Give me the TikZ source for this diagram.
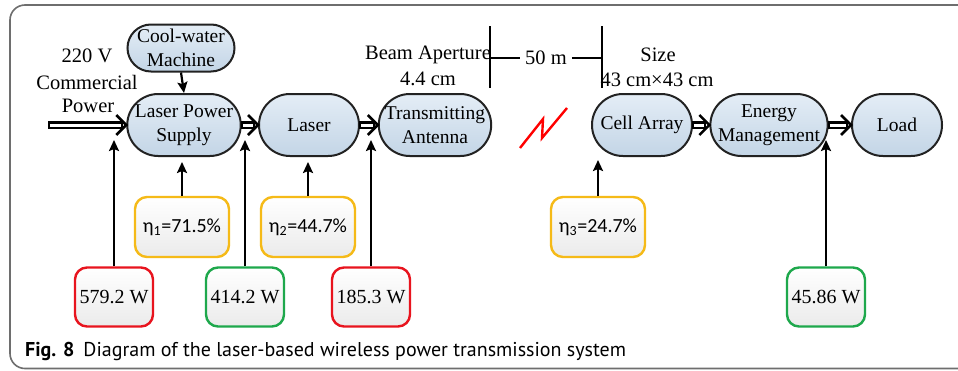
\documentclass[tikz,border=0pt]{standalone}
\usepackage{fontspec}
\setmainfont{Liberation Serif}
\newfontfamily\etafont{Carlito}
\newfontfamily\capfont{PT Sans}
\usetikzlibrary{shapes.misc,arrows.meta,calc}
\definecolor{boxline}{HTML}{222222}
\definecolor{blueTop}{HTML}{E4EDF6}
\definecolor{blueBot}{HTML}{C3D5E6}
\definecolor{redline}{HTML}{E8141E}
\definecolor{greenline}{HTML}{1EA84C}
\definecolor{yellowline}{HTML}{F5BA18}
\definecolor{framegray}{HTML}{6E6E6E}
\tikzset{
  stage/.style={rounded rectangle, draw=boxline, line width=2pt,
    top color=blueTop, bottom color=blueBot, minimum height=62pt,
    inner xsep=0pt, inner ysep=0pt, align=center,
    font=\fontsize{19.5}{24}\selectfont},
  valbox/.style={rectangle, rounded corners=12pt, line width=2.4pt,
    top color=white, bottom color=black!8, minimum width=78pt,
    minimum height=59pt, inner sep=0pt, font=\fontsize{20}{24}\selectfont},
  effbox/.style={valbox, draw=yellowline, minimum width=94pt,
    minimum height=60pt, font=\etafont\fontsize{20}{24}\selectfont},
  lbl/.style={inner sep=0pt, align=center, font=\fontsize{20.5}{25}\selectfont},
  flowshaft/.style={line width=2.2pt, fill=white},
  flowhead/.style={line width=2.6pt, miter limit=10},
  feed/.style={line width=2.2pt, -{Stealth[length=11pt,width=10pt,inset=2pt]}},
}
% hollow double arrow, left to right, from #1 to the tip #2
\newcommand\flowarrow[2]{%
  \draw[flowshaft] ($(#1)+(0,-2.6)$) rectangle ($(#2)+(-4,2.6)$);
  \draw[flowhead] ($(#2)+(-10,-10)$) -- (#2) -- ($(#2)+(-10,10)$);}
\begin{document}
\begin{tikzpicture}[x=1pt,y=-1pt]
\clip (0,0) rectangle (958,370);
\fill[white] (0,0) rectangle (958,370);
% outer frame
\draw[framegray, line width=1.6pt, rounded corners=15pt] (10,5) rectangle (1000,368.5);

% stages of the chain
\node[stage, minimum width=107pt, minimum height=47pt] (cool) at (181,48) {Cool-water\\Machine};
\node[stage, minimum width=100pt] (lps) at (184,125) {Laser Power\\Supply};
\node[stage, minimum width=100pt] (laser) at (309,125) {Laser};
\node[stage, minimum width=104pt] (ant) at (435,125) {Transmitting\\Antenna};
\node[stage, minimum width=100pt] (cell) at (642,125) {Cell Array};
\node[stage, minimum width=108pt] (em) at (769,125) {Energy\\Management};
\node[stage, minimum width=90pt] (load) at (897,125) {Load};

% free labels
\node[lbl] (v220) at (87,56) {220 V};
\node[lbl] (comm) at (87,82) {Commercial};
\node[lbl] (pow) at (88,106) {Power};
\node[lbl] (beam) at (428,55) {Beam Aperture};
\node[lbl] (apval) at (428,79) {4.4 cm};
\node[lbl] (size) at (658,55) {Size};
\node[lbl] (sizeval) at (657,80) {43 cm×43 cm};

% power flow
\coordinate (src) at (49,125);
\flowarrow{src}{lps.west}
\flowarrow{lps.east}{laser.west}
\flowarrow{laser.east}{ant.west}
\flowarrow{cell.east}{em.west}
\flowarrow{em.east}{load.west}
\draw[feed] (cool.south) -- (lps.north);

% link distance
\coordinate (d1t) at (490,26); \coordinate (d1b) at (490,88);
\coordinate (d2t) at (602,26); \coordinate (d2b) at (602,88);
\draw[line width=2pt] (d1t) -- (d1b);
\draw[line width=2pt] (d2t) -- (d2b);
\node[lbl, fill=white, inner xsep=5pt] (dist) at (546,58) {50 m};
\draw[line width=2pt] (d1t |- dist.west) -- (dist.west);
\draw[line width=2pt] (dist.east) -- (d2t |- dist.east);

% wireless beam symbol
\draw[red, line width=2.4pt] (520,148) -- (543,119) -- (542,138) -- (567,108);

% measured powers
\node[valbox, draw=redline] (p1) at (114,297) {579.2 W};
\node[valbox, draw=greenline] (p2) at (245,297) {414.2 W};
\node[valbox, draw=redline] (p3) at (371,297) {185.3 W};
\node[valbox, draw=greenline] (p4) at (826,297) {45.86 W};
\coordinate (t1) at (114,140);
\coordinate (t2) at (245,140);
\coordinate (t3) at (371,140);
\coordinate (t4) at (826,140);
\draw[feed] (p1.north) -- (t1);
\draw[feed] (p2.north) -- (t2);
\draw[feed] (p3.north) -- (t3);
\draw[feed] (p4.north) -- (t4);

% efficiencies
\node[effbox] (e1) at (182,227) {η\textsubscript{1}=71.5\%};
\node[effbox] (e2) at (308,227) {η\textsubscript{2}=44.7\%};
\node[effbox] (e3) at (598,227) {η\textsubscript{3}=24.7\%};
\draw[feed, shorten >=5pt] (e1.north) -- (e1.north |- lps.south);
\draw[feed, shorten >=5pt] (e2.north) -- (e2.north |- laser.south);
\draw[feed, shorten >=3pt] (e3.north) -- (e3.north |- cell.south);

% caption
\node[anchor=west, inner sep=0pt, font=\capfont\fontsize{20}{24}\selectfont] (cap) at (25,351)
  {\textbf{Fig. 8}\hspace{9pt}Diagram of the laser-based wireless power transmission system};
\end{tikzpicture}
\end{document}
